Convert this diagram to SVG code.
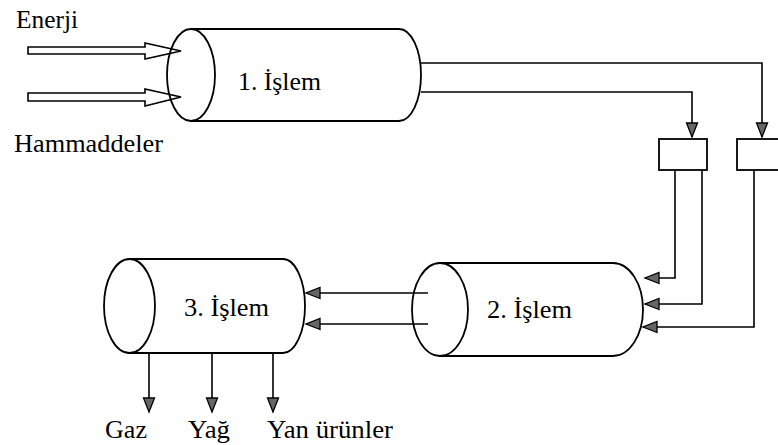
<svg xmlns="http://www.w3.org/2000/svg" width="778" height="445" viewBox="0 0 778 445">
<style>
  .body { fill: #fff; stroke: #000; stroke-width: 1.8; }
  .hollow { fill: none; stroke: #000; stroke-width: 1.6; }
  .conn { fill: none; stroke: #000; stroke-width: 1.6; marker-end: url(#ah); }
  .box { fill: #fff; stroke: #000; stroke-width: 1.8; }
  text { font-family: "Times New Roman", "Liberation Serif", Tinos, "DejaVu Serif", serif; fill: #000; }
  .lbl { font-size: 25px; }
  .proc { font-size: 26px; }
</style>
<defs>
  <marker id="ah" markerUnits="userSpaceOnUse" markerWidth="16" markerHeight="14" refX="14" refY="6" orient="auto" overflow="visible">
    <path d="M0,0.5 L14,6 L0,11.5 Z" fill="#666" stroke="#000" stroke-width="1.3" stroke-linejoin="miter"/>
  </marker>
</defs>
<rect width="778" height="445" fill="#fff"/>

<g id="process1">
  <path class="body" d="M191,29 H399 A22,46 0 0 1 399,121 H191 Z"/>
  <ellipse class="body" cx="191" cy="75" rx="24" ry="46"/>
  <text class="proc" x="238" y="90" textLength="83" lengthAdjust="spacingAndGlyphs">1. İşlem</text>
</g>

<g id="process2">
  <path class="body" d="M440,263 H613 A30,46.5 0 0 1 613,356 H440 Z"/>
  <ellipse class="body" cx="440" cy="309.5" rx="28" ry="46.5"/>
  <text class="proc" x="487" y="318" textLength="85" lengthAdjust="spacingAndGlyphs">2. İşlem</text>
</g>

<g id="process3">
  <path class="body" d="M129.5,259 H283 A22,47 0 0 1 283,353 H129.5 Z"/>
  <ellipse class="body" cx="129.5" cy="306" rx="25.5" ry="47"/>
  <text class="proc" x="184" y="316" textLength="85" lengthAdjust="spacingAndGlyphs">3. İşlem</text>
</g>

<g id="box1">
  <rect class="box" x="659" y="139" width="48" height="31"/>
</g>
<g id="box2">
  <rect class="box" x="737" y="139" width="50" height="31"/>
</g>

<g id="inputs">
  <polygon class="hollow" points="28,47 145,47 145,43 181,51 145,59 145,54 28,54"/>
  <polygon class="hollow" points="28,93 145,93 145,89 181,97 145,106 145,101 28,101"/>
  <text class="lbl" x="16" y="28" textLength="62" lengthAdjust="spacingAndGlyphs">Enerji</text>
  <text class="lbl" x="14" y="152" textLength="149" lengthAdjust="spacingAndGlyphs">Hammaddeler</text>
</g>

<g id="connectors">
  <path class="conn" d="M421,92 H692 V137"/>
  <path class="conn" d="M421,63 H762 V137"/>
  <path class="conn" d="M675,171 V278 H645"/>
  <path class="conn" d="M702,171 V304 H645"/>
  <path class="conn" d="M754,171 V327 H643"/>
  <path class="conn" d="M428,293 H306"/>
  <path class="conn" d="M428,324 H306"/>
  <path class="conn" d="M149,353 V412"/>
  <path class="conn" d="M212,353 V412"/>
  <path class="conn" d="M273,353 V412"/>
</g>

<g id="outputs">
  <text class="lbl" x="105" y="438" textLength="42" lengthAdjust="spacingAndGlyphs">Gaz</text>
  <text class="lbl" x="188" y="438" textLength="42" lengthAdjust="spacingAndGlyphs">Yağ</text>
  <text class="lbl" x="267" y="438" textLength="126" lengthAdjust="spacingAndGlyphs">Yan ürünler</text>
</g>
</svg>
